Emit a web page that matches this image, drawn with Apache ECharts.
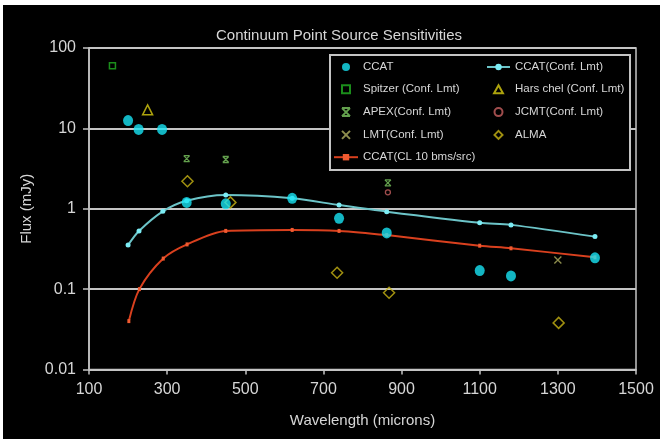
<!DOCTYPE html>
<html><head><meta charset="utf-8">
<script src="https://cdn.jsdelivr.net/npm/echarts@6/dist/echarts.min.js"></script>
<style>html,body{margin:0;padding:0;background:#fff;}#c{width:660px;height:439px;}</style>
</head><body><div id="c"></div>
<script>
const xTicks = [100,300,500,700,900,1100,1300,1500];
const yTicks = [0.01,0.1,1,10,100];

const ccatWave = [200,227,287,350,450,620,740,862,1100,1180,1395];
const ccatFlux = [12.5,9.7,9.7,1.2,1.15,1.35,0.76,0.5,0.17,0.146,0.245];

const limitWave = [200,228,289,350,450,620,740,862,1100,1180,1395];
const limitFlux = [0.354,0.53,0.93,1.26,1.48,1.35,1.11,0.92,0.67,0.63,0.45];

const clWave = [202,229,290,351,450,620,740,862,1100,1180,1395];
const clFlux = [0.040,0.1,0.24,0.36,0.53,0.545,0.53,0.47,0.347,0.322,0.249];

const spitzerWave = [160];
const spitzerFlux = [60];
const herschelWave = [250];
const herschelFlux = [17];
const apexWave = [350,450,865];
const apexFlux = [4.2,4.1,2.1];
const jcmtWave = [865];
const jcmtFlux = [1.6];
const lmtWave = [1300];
const lmtFlux = [0.23];
const almaWave = [352,462,735,868,1302];
const almaFlux = [2.2,1.2,0.16,0.09,0.038];

const zip = (a,b) => a.map((v,i)=>[v,b[i]]);
const txt = '#d6d6d6';
const gridCol = '#c4c4c4';
const font = 'Liberation Sans';

const SQUARE = 'path://M0,0L10,0L10,10L0,10Z';
const TRIANGLE = 'path://M5,0L10,9L0,9Z';
const DIAMOND = 'path://M5,0L10,5L5,10L0,5Z';
const HOURGLASS = 'path://M0,0L10,0M0,10L10,10M0,0L10,10M10,0L0,10';
const CROSS = 'path://M0,0L10,10M10,0L0,10';

const legendText = {color: txt, fontFamily: font, fontSize: 11.5, lineHeight: 12};

const chart = echarts.init(document.getElementById('c'));
chart.setOption({
  backgroundColor: '#000',
  animation: false,
  title: {
    text: 'Continuum Point Source Sensitivities',
    left: 334, top: 23, textAlign: 'center',
    textStyle: {color: txt, fontFamily: font, fontSize: 15, fontWeight: 'normal'}
  },
  grid: {left: 89, right: 24, top: 48, bottom: 69.5, show: true, borderColor: gridCol, borderWidth: 1.5, backgroundColor: 'transparent'},
  xAxis: {
    type: 'value', min: 100, max: 1500,
    name: 'Wavelength (microns)', nameLocation: 'middle', nameGap: 44,
    nameTextStyle: {color: txt, fontFamily: font, fontSize: 15},
    axisLine: {lineStyle: {color: gridCol, width: 1.5}},
    axisTick: {show: true, length: 5, customValues: xTicks, lineStyle: {color: gridCol, width: 1.5}},
    axisLabel: {customValues: xTicks, color: txt, fontFamily: font, fontSize: 16, margin: 12,
      formatter: v => String(v)},
    splitLine: {show: false}
  },
  yAxis: {
    type: 'log', logBase: 10, min: 0.01, max: 100,
    name: 'Flux (mJy)', nameLocation: 'middle', nameGap: 50,
    nameTextStyle: {color: txt, fontFamily: font, fontSize: 15},
    axisLine: {show: true, lineStyle: {color: gridCol, width: 1.5}},
    axisTick: {show: true, length: 6, customValues: yTicks, lineStyle: {color: gridCol, width: 1.5}},
    axisLabel: {customValues: yTicks, color: txt, fontFamily: font, fontSize: 16, margin: 13,
      formatter: v => String(+v.toPrecision(3))},
    splitLine: {show: true, lineStyle: {color: gridCol, width: 2}}
  },
  graphic: [
    {type: 'rect', z: 3, shape: {x: 0, y: 0, width: 660, height: 5}, style: {fill: '#fff'}},
    {type: 'rect', z: 3, shape: {x: 0, y: 0, width: 3, height: 439}, style: {fill: '#fff'}},
    {type: 'rect', z: 3, shape: {x: 330, y: 55, width: 300, height: 115}, style: {fill: '#000', stroke: gridCol, lineWidth: 2}}
  ],
  legend: [
    {orient: 'vertical', left: 333, top: 61, padding: 0, itemWidth: 24, itemHeight: 8, itemGap: 9.8, z: 5,
     textStyle: legendText,
     data: ['CCAT','Spitzer (Conf. Lmt)','APEX(Conf. Lmt)','LMT(Conf. Lmt)','CCAT(CL 10 bms/src)']},
    {orient: 'vertical', left: 486, top: 61, padding: 0, itemWidth: 23, itemHeight: 8, itemGap: 9.8, z: 5,
     textStyle: legendText,
     data: ['CCAT(Conf. Lmt)','Hars chel (Conf. Lmt)','JCMT(Conf. Lmt)','ALMA']}
  ],
  series: [
    {name: 'CCAT(Conf. Lmt)', type: 'line', smooth: 0.3, data: zip(limitWave, limitFlux),
     symbol: 'circle', symbolSize: 5, lineStyle: {color: '#6cc4c8', width: 2},
     itemStyle: {color: '#7cecf4'}, z: 2},
    {name: 'CCAT(CL 10 bms/src)', type: 'line', smooth: 0.3, data: zip(clWave, clFlux),
     symbol: 'rect', symbolSize: [3,4], lineStyle: {color: '#d9401e', width: 2},
     itemStyle: {color: '#f05a30'}, z: 2},
    {name: 'CCAT', type: 'scatter', data: zip(ccatWave, ccatFlux), symbol: 'circle', symbolSize: [10,11],
     itemStyle: {color: '#18e4f4'}, z: 3},
    {name: 'Spitzer (Conf. Lmt)', type: 'scatter', data: zip(spitzerWave, spitzerFlux), symbol: SQUARE, symbolSize: 6,
     itemStyle: {color: 'none', borderColor: '#22b022', borderWidth: 1.5}},
    {name: 'Hars chel (Conf. Lmt)', type: 'scatter', data: zip(herschelWave, herschelFlux), symbol: TRIANGLE, symbolSize: 10,
     itemStyle: {color: 'none', borderColor: '#d8cc10', borderWidth: 1.5}},
    {name: 'APEX(Conf. Lmt)', type: 'scatter', data: zip(apexWave, apexFlux), symbol: HOURGLASS, symbolSize: 6,
     itemStyle: {color: 'none', borderColor: '#7cc860', borderWidth: 1.3}},
    {name: 'JCMT(Conf. Lmt)', type: 'scatter', data: zip(jcmtWave, jcmtFlux), symbol: 'circle', symbolSize: 5,
     itemStyle: {color: 'none', borderColor: '#c86060', borderWidth: 1.3}},
    {name: 'LMT(Conf. Lmt)', type: 'scatter', data: zip(lmtWave, lmtFlux), symbol: CROSS, symbolSize: 7,
     itemStyle: {color: 'none', borderColor: '#b0b060', borderWidth: 1.3}},
    {name: 'ALMA', type: 'scatter', data: zip(almaWave, almaFlux), symbol: DIAMOND, symbolSize: 11,
     itemStyle: {color: 'none', borderColor: '#c8b414', borderWidth: 1.5}}
  ]
});
</script></body></html>
